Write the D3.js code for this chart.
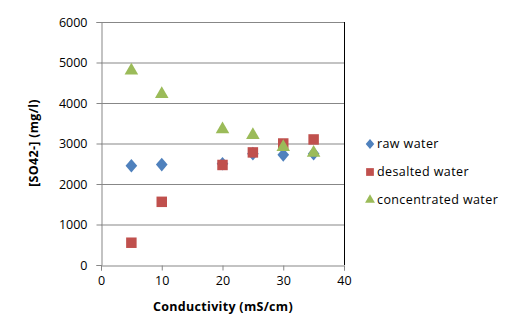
<!DOCTYPE html>
<html>
<head>
<meta charset="utf-8">
<script src="https://cdn.jsdelivr.net/npm/d3@7"></script>
<style>
  body { margin: 0; background: #fff; }
  text { font-family: "Open Sans", "Liberation Sans", sans-serif; }
</style>
</head>
<body>
<script>
// data
var conductivity = [5, 10, 20, 25, 30, 35];
var rawWater = [2450, 2480, 2500, 2750, 2720, 2750];
var desaltedWater = [550, 1560, 2470, 2780, 3000, 3100];
var concentratedWater = [4800, 4220, 3350, 3210, 2910, 2770];
var seriesNames = ['raw water', 'desalted water', 'concentrated water'];
var seriesColors = ['#4F81BD', '#C0504D', '#9BBB59'];
var xTicks = [0, 10, 20, 30, 40];
var yTicks = [0, 1000, 2000, 3000, 4000, 5000, 6000];

var w = 508, h = 321;
var svg = d3.select('body').append('svg')
  .attr('width', w)
  .attr('height', h);

var x = d3.scaleLinear().domain([0, 40]).range([101, 344]);
var y = d3.scaleLinear().domain([0, 6000]).range([265, 22]);

// gridlines
svg.selectAll('.grid')
  .data(yTicks.slice(1))
  .enter()
  .append('line')
  .attr('x1', x(0)).attr('x2', x(40))
  .attr('y1', function(d) { return y(d) + 0.5; })
  .attr('y2', function(d) { return y(d) + 0.5; })
  .attr('stroke', '#878787')
  .attr('stroke-width', 1);

// right border
svg.append('line')
  .attr('x1', x(40) + 0.5).attr('x2', x(40) + 0.5)
  .attr('y1', y(6000)).attr('y2', y(0))
  .attr('stroke', '#000').attr('stroke-width', 1);

var xAxis = svg.append('g')
  .attr('transform', 'translate(0,' + (y(0) + 0.5) + ')')
  .call(d3.axisBottom(x).tickValues(xTicks).tickSize(5).tickPadding(6));
var yAxis = svg.append('g')
  .attr('transform', 'translate(' + (x(0) + 0.5) + ',0)')
  .call(d3.axisLeft(y).tickValues(yTicks).tickFormat(d3.format('d')).tickSize(5).tickPadding(9));

[xAxis, yAxis].forEach(function(g) {
  g.select('.domain').attr('stroke', '#878787');
  g.selectAll('.tick line').attr('stroke', '#878787');
  g.selectAll('.tick text')
    .attr('fill', '#000')
    .style('font-size', '12.5px')
    .style('font-family', '"Open Sans", "Liberation Sans", sans-serif');
});

// axis titles
svg.append('text')
  .attr('x', 223).attr('y', 311)
  .attr('text-anchor', 'middle')
  .style('font-size', '12.5px').style('font-weight', 'bold')
  .style('letter-spacing', '0.3px')
  .text('Conductivity (mS/cm)');

svg.append('text')
  .attr('transform', 'translate(38,143) rotate(-90)')
  .attr('text-anchor', 'middle')
  .style('font-size', '12.5px').style('font-weight', 'bold')
  .style('letter-spacing', '0.3px')
  .text('[SO42-] (mg/l)');

var symbols = [d3.symbolDiamond, d3.symbolSquare, d3.symbolTriangle];
var sizes = [60, 110, 80];
var allSeries = [rawWater, desaltedWater, concentratedWater];

allSeries.forEach(function(vals, i) {
  svg.selectAll('.s' + i)
    .data(vals)
    .enter()
    .append('path')
    .attr('d', d3.symbol().type(symbols[i]).size(sizes[i]))
    .attr('transform', function(d, j) {
      return 'translate(' + x(conductivity[j]) + ',' + y(d) + ')' + (i === 0 ? ' scale(1.4,0.95)' : '');
    })
    .attr('fill', seriesColors[i]);
});

// legend
var legend = svg.selectAll('.legend')
  .data(seriesNames)
  .enter()
  .append('g')
  .attr('transform', function(d, i) { return 'translate(370,' + (144 + i * 28) + ')'; });

legend.append('path')
  .attr('d', function(d, i) {
    return d3.symbol().type(symbols[i]).size([32, 60, 42][i])();
  })
  .attr('transform', function(d, i) { return i === 0 ? 'scale(1.4,0.95)' : null; })
  .attr('fill', function(d, i) { return seriesColors[i]; });

legend.append('text')
  .attr('x', 7).attr('y', 4)
  .style('font-size', '12.5px')
  .style('letter-spacing', '0.4px')
  .text(function(d) { return d; });
</script>
</body>
</html>
